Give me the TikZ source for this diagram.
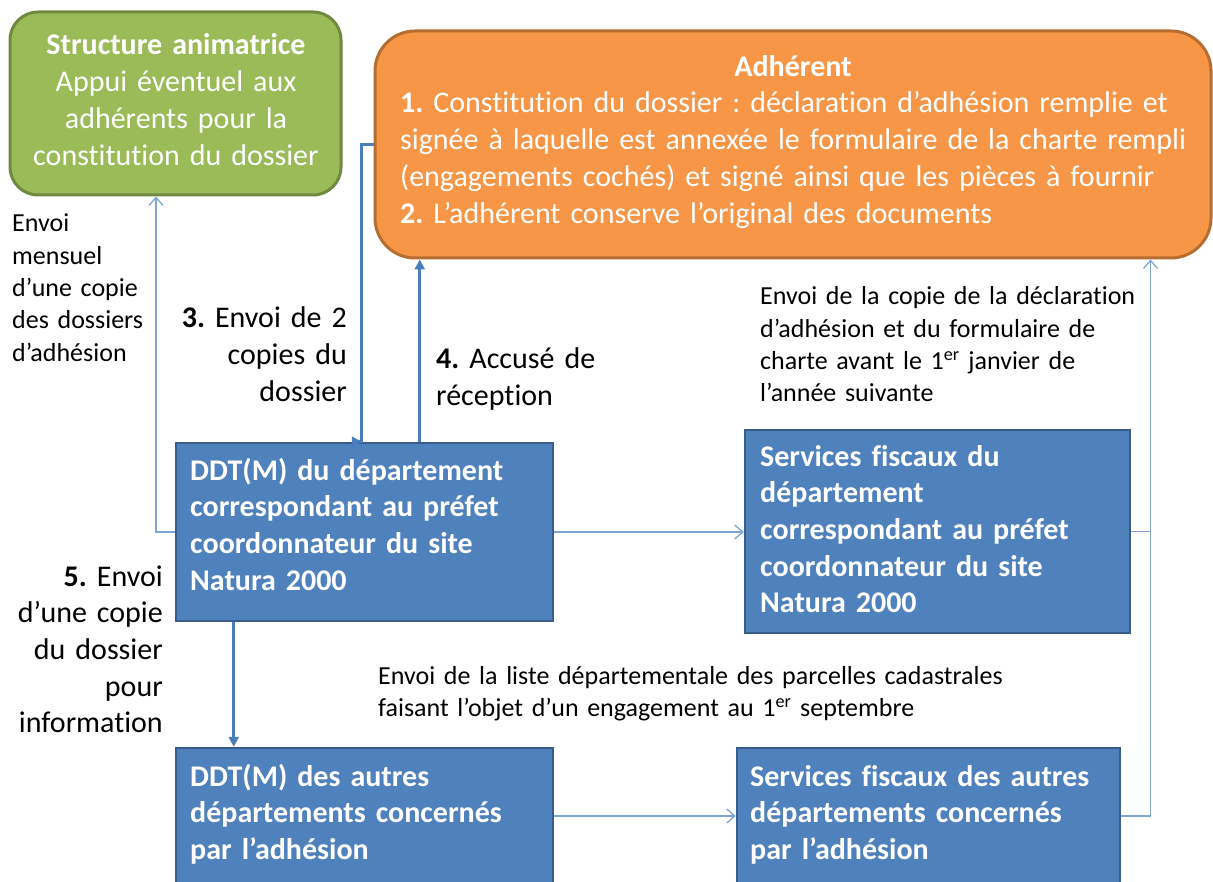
\documentclass[tikz,border=0pt]{standalone}
\usepackage{fontspec}
\setmainfont{Carlito}[Ligatures=NoCommon]
\usetikzlibrary{arrows.meta,calc}
\definecolor{gfill}{HTML}{9BBB59}
\definecolor{gline}{HTML}{71893F}
\definecolor{ofill}{HTML}{F79646}
\definecolor{oline}{HTML}{B66D31}
\definecolor{bfill}{HTML}{4F81BD}
\definecolor{bline}{HTML}{385D8A}
\definecolor{thinc}{HTML}{7FA5D6}
\definecolor{thickc}{HTML}{4A7EBB}
\newcommand{\fbig}{\fontsize{30}{36.7}\selectfont}
\newcommand{\fsmall}{\fontsize{26}{32.3}\selectfont}
\frenchspacing
\begin{document}
\begin{tikzpicture}[x=1pt,y=-1pt,
  greenbox/.style={draw=gline,fill=gfill,line width=3pt,rounded corners=28pt,inner sep=0pt},
  orangebox/.style={draw=oline,fill=ofill,line width=3pt,rounded corners=40pt,inner sep=0pt},
  bluebox/.style={draw=bline,fill=bfill,line width=2.5pt,inner sep=0pt},
  intxt/.style={inner sep=0pt,text=white,font=\fbig\bfseries\frenchspacing,align=left,text width=420pt,anchor=base west},
  lbl/.style={inner sep=0pt,text=black,font=\fbig\frenchspacing,anchor=base west,align=left,text width=300pt},
  lblsmall/.style={inner sep=0pt,text=black,font=\fsmall\frenchspacing,anchor=base west,align=left,text width=700pt},
  thinarrow/.style={draw=thinc,line width=1.5pt,-{Straight Barb[length=8pt,width=14pt,line width=1.3pt]}},
  thinline/.style={draw=thinc,line width=1.5pt},
  thickarrow/.style={draw=thickc,line width=3pt,-{Triangle[length=10pt,width=10pt]}},
  thickline/.style={draw=thickc,line width=3pt}
]
\useasboundingbox (0,0) rectangle (1213,882);
\fill[white] (0,0) rectangle (1213,882);

% boxes
\node[greenbox,minimum width=331pt,minimum height=183pt] (green) at (175.5,103.5) {};
\node[orangebox,minimum width=836pt,minimum height=227pt] (orange) at (793,144.5) {};
\node[bluebox,minimum width=377pt,minimum height=178pt] (ddt1) at (364.5,532) {};
\node[bluebox,minimum width=385pt,minimum height=203pt] (sf1) at (937.5,531.5) {};
\node[bluebox,minimum width=377pt,minimum height=136pt] (ddt2) at (364.5,816) {};
\node[bluebox,minimum width=383pt,minimum height=136pt] (sf2) at (928.5,816) {};
% the lower boxes run past the bottom edge of the page
\fill[bfill] (ddt2.south west) ++(1.25,-1.25) rectangle ([shift={(-1.25,20)}]ddt2.south east);
\fill[bfill] (sf2.south west) ++(1.25,-1.25) rectangle ([shift={(-1.25,20)}]sf2.south east);
\draw[bline,line width=2.5pt] (ddt2.south west) -- ++(0,20) (ddt2.south east) -- ++(0,20);
\draw[bline,line width=2.5pt] (sf2.south west) -- ++(0,20) (sf2.south east) -- ++(0,20);

% box texts
\node[inner sep=0pt,text=white,font=\fbig\frenchspacing,align=center,text width=330pt,anchor=base] (tgreen) at (176,55)
  {\textbf{Structure animatrice}\\Appui éventuel aux\\adhérents pour la\\constitution du dossier};
\node[inner sep=0pt,text=white,font=\fbig\bfseries,anchor=base] (tadh) at (793,77) {Adhérent};
\node[inner sep=0pt,text=white,font=\fbig\frenchspacing,align=left,text width=800pt,anchor=base west] (torange) at (400,113)
  {\textbf{1.} Constitution du dossier : déclaration d’adhésion remplie et\\
   signée à laquelle est annexée le formulaire de la charte rempli\\
   (engagements cochés) et signé ainsi que les pièces à fournir\\
   \textbf{2.} L’adhérent conserve l’original des documents};
\node[intxt] (tddt1) at (190,480) {DDT(M) du département\\correspondant au préfet\\coordonnateur du site\\Natura 2000};
\node[intxt] (tsf1) at (760,466) {Services fiscaux du\\département\\correspondant au préfet\\coordonnateur du site\\Natura 2000};
\node[intxt] (tddt2) at (190,786) {DDT(M) des autres\\départements concernés\\par l’adhésion};
\node[intxt] (tsf2) at (750,786) {Services fiscaux des autres\\départements concernés\\par l’adhésion};

% labels
\node[lblsmall] (lmens) at (12,232) {Envoi\\mensuel\\d’une copie\\des dossiers\\d’adhésion};
\node[lbl,anchor=base east,align=right] (l3) at (347,328) {\textbf{3.} Envoi de 2\\copies du\\dossier};
\node[lbl] (l4) at (436,369) {\textbf{4.} Accusé de\\réception};
\node[lblsmall] (lcopie) at (760,305) {Envoi de la copie de la déclaration\\d’adhésion et du formulaire de\\charte avant le 1\textsuperscript{er} janvier de\\l’année suivante};
\node[lbl,anchor=base east,align=right] (l5) at (163,586) {\textbf{5.} Envoi\\d’une copie\\du dossier\\pour\\information};
\node[lblsmall] (lliste) at (378,684) {Envoi de la liste départementale des parcelles cadastrales\\faisant l’objet d’un engagement au 1\textsuperscript{er} septembre};

% connector anchor points
\coordinate (gin) at ($(green.south)+(-19.5,0)$);
\coordinate (dl) at ($(ddt1.north west)+(187,0)$);
\coordinate (dr) at ($(ddt1.north west)+(245,0)$);
\coordinate (ol) at ($(orange.west)+(0,0.5)$);
\coordinate (ob) at ($(orange.south west)+(46,0)$);
\coordinate (obr) at ($(orange.south west)+(777,0)$);
\coordinate (d5) at ($(ddt1.south west)+(59,0)$);
\coordinate (d5b) at ($(ddt2.north west)+(59,0)$);

% thin connectors
\draw[thinarrow] (ddt1.west) -| (gin);
\draw[thinarrow] (ddt1.east) -- (ddt1.east -| sf1.west);
\draw[thinline] (sf1.east) -- (sf1.east -| obr);
\draw[thinarrow] (sf2.east) -| (obr);
\draw[thinarrow] (ddt2.east) -- (ddt2.east -| sf2.west);

% thick connectors
\draw[thickarrow] (ol) -- ++(-12,0) |- (dl);
\draw[thickarrow] (dr) -- (dr |- ob);
\draw[thickarrow] (d5) -- (d5b);
\end{tikzpicture}
\end{document}
